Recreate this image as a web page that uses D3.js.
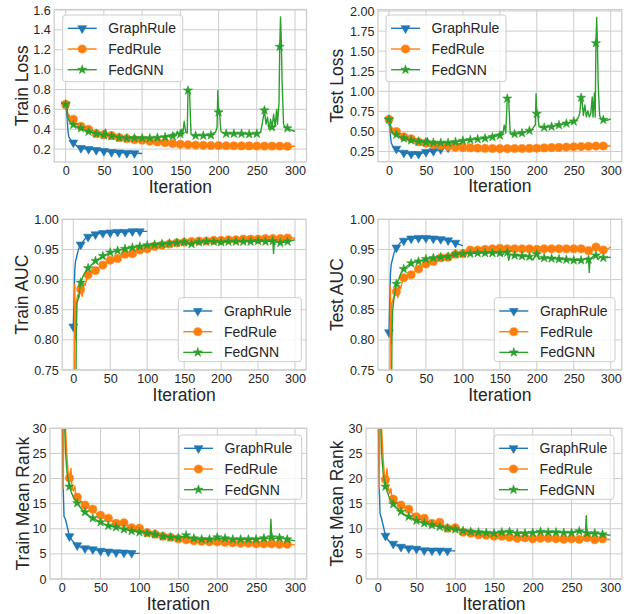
<!DOCTYPE html>
<html><head><meta charset="utf-8">
<script src="https://cdn.jsdelivr.net/npm/d3@7"></script>
<style>body{margin:0;background:#fff}svg{display:block}text{font-family:"Liberation Sans",Arial,sans-serif;fill:#262626}</style>
</head><body><svg id="c" width="627" height="614"></svg>
<script>
const seriesNames = ["GraphRule","FedRule","FedGNN"];
const xTicks = [0,50,100,150,200,250,300];
const yTicksLoss = [0.2,0.4,0.6,0.8,1.0,1.2,1.4,1.6];
const yTicksTestLoss = [0.25,0.5,0.75,1.0,1.25,1.5,1.75,2.0];
const yTicksAUC = [0.75,0.8,0.85,0.9,0.95,1.0];
const yTicksRank = [0,5,10,15,20,25,30];

// Train Loss
const trainLossGraphRule = [[0,0.65],[1,0.6],[2,0.5],[3,0.38],[4,0.33],[5,0.31],[7,0.29],[10,0.265],[13,0.24],[16,0.225],[20,0.21],[25,0.205],[30,0.2],[35,0.195],[40,0.19],[45,0.185],[50,0.18],[55,0.175],[60,0.17],[70,0.165],[80,0.16],[90,0.158],[100,0.155]];
const trainLossFedRule = [[0,0.65],[1,0.66],[2,0.6],[3,0.48],[4,0.55],[5,0.53],[7,0.5],[10,0.5],[13,0.46],[16,0.44],[20,0.43],[25,0.41],[30,0.4],[35,0.37],[40,0.355],[45,0.35],[50,0.345],[55,0.34],[60,0.335],[65,0.32],[70,0.315],[80,0.305],[90,0.295],[100,0.29],[110,0.28],[120,0.272],[130,0.265],[140,0.255],[150,0.248],[160,0.244],[170,0.24],[180,0.238],[190,0.236],[200,0.235],[210,0.234],[220,0.233],[230,0.232],[240,0.232],[250,0.231],[260,0.23],[270,0.23],[280,0.23],[290,0.229],[300,0.228]];
const trainLossFedGNN = [[0,0.65],[1,0.64],[2,0.6],[3,0.52],[4,0.5],[5,0.48],[7,0.46],[10,0.445],[13,0.43],[16,0.415],[20,0.41],[25,0.39],[30,0.375],[35,0.365],[40,0.355],[45,0.345],[50,0.34],[52,0.4],[54,0.34],[60,0.33],[65,0.325],[70,0.315],[80,0.31],[90,0.31],[100,0.31],[110,0.31],[120,0.315],[125,0.32],[130,0.32],[133,0.34],[136,0.32],[138,0.35],[140,0.33],[142,0.36],[144,0.33],[146,0.38],[148,0.34],[150,0.35],[152,0.4],[153,0.34],[155,0.48],[157,0.37],[159,0.36],[160,0.79],[162,0.78],[164,0.35],[167,0.33],[170,0.335],[175,0.335],[180,0.335],[185,0.34],[188,0.33],[190,0.34],[193,0.36],[196,0.37],[198,0.42],[199,0.79],[200,0.57],[201,0.6],[203,0.38],[206,0.36],[210,0.355],[220,0.355],[230,0.355],[240,0.35],[250,0.355],[255,0.37],[257,0.45],[260,0.59],[262,0.45],[264,0.52],[266,0.4],[268,0.5],[270,0.42],[272,0.55],[274,0.43],[276,0.6],[277,0.45],[279,0.66],[280,1.23],[281,1.53],[282,1.3],[283,0.9],[285,0.45],[288,0.41],[290,0.41],[295,0.39],[300,0.38]];

// Test Loss
const testLossGraphRule = [[0,0.64],[1,0.6],[2,0.45],[3,0.36],[5,0.32],[7,0.3],[10,0.285],[13,0.26],[16,0.245],[20,0.235],[25,0.225],[30,0.22],[35,0.22],[40,0.22],[45,0.23],[50,0.245],[55,0.25],[60,0.255],[65,0.265],[70,0.28],[75,0.29],[80,0.3],[85,0.31],[90,0.32],[95,0.34],[100,0.355]];
const testLossFedRule = [[0,0.65],[1,0.66],[2,0.6],[3,0.48],[4,0.55],[6,0.52],[10,0.5],[13,0.46],[16,0.44],[20,0.435],[25,0.42],[30,0.41],[35,0.385],[40,0.37],[45,0.36],[50,0.355],[55,0.345],[60,0.335],[70,0.325],[80,0.315],[90,0.305],[100,0.3],[110,0.297],[120,0.293],[130,0.29],[140,0.288],[150,0.287],[160,0.287],[170,0.288],[180,0.289],[190,0.29],[200,0.292],[210,0.296],[220,0.3],[230,0.302],[240,0.306],[250,0.309],[260,0.312],[270,0.315],[280,0.318],[290,0.32],[300,0.32]];
const testLossFedGNN = [[0,0.65],[1,0.64],[3,0.52],[5,0.48],[7,0.46],[10,0.46],[13,0.44],[16,0.43],[20,0.415],[25,0.4],[30,0.39],[35,0.38],[40,0.375],[45,0.37],[50,0.365],[52,0.42],[54,0.36],[60,0.36],[62,0.38],[64,0.35],[70,0.36],[80,0.36],[90,0.37],[100,0.385],[110,0.395],[120,0.405],[130,0.415],[135,0.42],[138,0.45],[140,0.43],[143,0.46],[145,0.44],[148,0.47],[150,0.45],[152,0.5],[154,0.47],[156,0.58],[158,0.48],[160,0.91],[162,0.9],[164,0.47],[166,0.46],[170,0.47],[175,0.47],[180,0.48],[185,0.5],[190,0.51],[193,0.52],[196,0.56],[198,0.58],[199,0.97],[200,0.72],[201,0.75],[203,0.56],[205,0.55],[210,0.55],[220,0.56],[230,0.58],[240,0.6],[250,0.625],[253,0.64],[256,0.67],[258,0.72],[260,0.92],[261,0.9],[263,0.7],[265,0.83],[267,0.68],[269,0.76],[271,0.68],[273,0.72],[275,0.93],[276,0.68],[278,0.98],[279,0.68],[280,1.6],[281,1.92],[282,1.6],[283,1.1],[285,0.7],[287,0.66],[290,0.645],[295,0.64],[300,0.655]];

// Train AUC
const trainAUCGraphRule = [[0,0.822],[1,0.86],[2,0.915],[3,0.93],[5,0.94],[7,0.95],[10,0.958],[13,0.963],[16,0.968],[20,0.971],[25,0.973],[30,0.975],[40,0.977],[50,0.978],[60,0.979],[70,0.979],[80,0.98],[90,0.98],[100,0.98]];
const trainAUCFedRule = [[0,0.5],[1,0.6],[2,0.892],[3,0.8],[4,0.86],[6,0.875],[8,0.87],[10,0.884],[12,0.872],[14,0.895],[16,0.89],[18,0.9],[20,0.908],[25,0.912],[30,0.915],[35,0.92],[40,0.924],[45,0.929],[50,0.932],[55,0.934],[60,0.935],[65,0.939],[70,0.942],[75,0.942],[80,0.943],[85,0.947],[90,0.949],[100,0.951],[110,0.955],[120,0.957],[130,0.959],[140,0.961],[150,0.962],[160,0.963],[170,0.964],[180,0.964],[190,0.965],[200,0.965],[210,0.966],[220,0.966],[230,0.967],[240,0.967],[250,0.967],[260,0.968],[270,0.968],[280,0.968],[290,0.969],[300,0.969]];
const trainAUCFedGNN = [[0,0.5],[3,0.6],[4,0.8],[5,0.86],[7,0.87],[10,0.895],[13,0.905],[16,0.912],[20,0.919],[25,0.925],[30,0.931],[35,0.935],[40,0.939],[45,0.942],[50,0.945],[60,0.948],[70,0.951],[80,0.953],[90,0.955],[100,0.957],[110,0.958],[120,0.959],[130,0.96],[140,0.961],[150,0.962],[155,0.96],[158,0.957],[160,0.959],[163,0.962],[170,0.962],[180,0.963],[190,0.963],[200,0.962],[210,0.963],[220,0.963],[230,0.963],[240,0.963],[250,0.964],[260,0.963],[270,0.964],[271,0.943],[272,0.963],[280,0.961],[285,0.962],[290,0.963],[300,0.966]];

// Test AUC
const testAUCGraphRule = [[0,0.8125],[1,0.86],[2,0.91],[3,0.925],[5,0.935],[7,0.945],[10,0.953],[13,0.958],[16,0.962],[20,0.9645],[25,0.967],[30,0.968],[40,0.969],[50,0.969],[60,0.968],[70,0.967],[80,0.965],[90,0.961],[100,0.956]];
const testAUCFedRule = [[0,0.5],[1,0.6],[2,0.889],[3,0.793],[4,0.86],[6,0.87],[8,0.875],[10,0.88],[12,0.87],[14,0.89],[16,0.885],[18,0.897],[20,0.903],[25,0.905],[30,0.908],[35,0.913],[40,0.9175],[45,0.922],[50,0.926],[55,0.928],[60,0.93],[65,0.933],[70,0.936],[75,0.936],[80,0.937],[85,0.94],[90,0.942],[100,0.943],[110,0.949],[120,0.949],[130,0.95],[140,0.951],[150,0.952],[160,0.951],[170,0.951],[180,0.951],[190,0.951],[200,0.95],[210,0.951],[220,0.951],[230,0.951],[240,0.951],[250,0.951],[260,0.951],[270,0.948],[275,0.95],[280,0.954],[285,0.948],[290,0.949],[295,0.95],[300,0.954]];
const testAUCFedGNN = [[0,0.5],[3,0.62],[4,0.8],[5,0.85],[7,0.87],[10,0.893],[13,0.9],[16,0.91],[20,0.9175],[25,0.923],[30,0.927],[35,0.929],[40,0.93],[50,0.934],[60,0.936],[70,0.937],[80,0.938],[90,0.942],[100,0.943],[110,0.943],[120,0.944],[130,0.944],[140,0.944],[150,0.944],[153,0.94],[156,0.945],[160,0.945],[162,0.932],[164,0.942],[170,0.94],[180,0.939],[190,0.938],[195,0.933],[198,0.94],[200,0.942],[203,0.934],[210,0.936],[220,0.935],[230,0.934],[240,0.933],[250,0.932],[260,0.932],[265,0.934],[268,0.936],[270,0.933],[271,0.912],[272,0.934],[275,0.937],[278,0.94],[280,0.94],[283,0.933],[286,0.938],[290,0.936],[300,0.937]];

// Train Mean Rank
const trainRankGraphRule = [[0,40],[1,30],[2,18],[3,12.5],[5,11.8],[7,10.5],[10,8.5],[13,7.8],[16,7.2],[20,6.7],[25,6.3],[30,6.1],[35,6],[40,5.9],[50,5.6],[60,5.45],[70,5.3],[80,5.25],[90,5.15],[100,5.1]];
const trainRankFedRule = [[0,45],[1,40],[2,18],[3,38],[5,30],[7,24],[9,20],[10,20.1],[12,22],[13,19],[15,17.5],[17,18.5],[18,17],[20,16.3],[25,15.5],[30,14.7],[35,14.2],[40,13.9],[45,13],[50,12.7],[55,12.3],[60,12.1],[65,11.5],[70,11.1],[75,11],[80,11.2],[85,10.5],[90,10.2],[100,10.1],[110,9.2],[120,8.9],[130,8.5],[140,8.3],[150,8],[160,7.8],[170,7.6],[180,7.5],[190,7.4],[200,7.4],[210,7.3],[220,7.2],[230,7.1],[240,7.1],[250,7],[260,7],[270,7],[280,6.9],[290,6.9],[300,6.8]];
const trainRankFedGNN = [[0,45],[2,40],[4,30],[5,25],[7,21],[10,18.4],[13,17],[16,16],[20,15.1],[25,14],[30,13.3],[35,12.6],[40,12.1],[45,11.7],[50,11.3],[55,10.9],[60,10.6],[70,10.3],[80,9.9],[90,9.55],[100,9.3],[110,9.1],[120,8.9],[130,8.5],[140,8.3],[150,8.2],[155,8.4],[160,8.7],[165,8.2],[170,8.1],[180,7.9],[190,7.9],[195,8],[200,8.3],[205,8],[210,8.1],[220,7.9],[230,7.9],[240,7.9],[250,7.9],[260,8.1],[268,8],[269,11.9],[270,8.3],[272,8],[280,8.2],[290,7.9],[300,7.6]];

// Test Mean Rank
const testRankGraphRule = [[0,40],[1,30],[2,18],[3,13],[5,12],[8,10],[10,8.6],[13,7.8],[16,7.3],[20,7],[25,6.6],[30,6.4],[35,6.2],[40,6.1],[50,6],[60,5.7],[70,5.65],[80,5.65],[90,5.6],[100,5.6]];
const testRankFedRule = [[0,45],[1,40],[2,18],[3,38],[5,30],[7,24],[9,20],[10,19.8],[12,22],[13,19],[15,17],[17,18],[18,16.5],[20,15.9],[25,15.2],[30,14.7],[35,14.2],[40,13.9],[45,13],[50,12.4],[55,12.2],[60,12.1],[65,11.4],[70,11.1],[75,11],[80,11.3],[85,10.5],[90,10.1],[100,10.2],[110,9.3],[120,9.1],[130,8.8],[140,8.7],[150,8.5],[160,8.5],[170,8.3],[180,8.1],[190,8.2],[200,8],[210,8.1],[220,8.1],[230,8],[240,7.9],[250,8],[260,7.9],[270,8.2],[280,7.8],[290,8],[300,7.8]];
const testRankFedGNN = [[0,45],[2,40],[4,30],[5,25],[7,21],[10,18.4],[13,17],[16,15.8],[20,14.9],[25,14],[30,13.4],[35,12.8],[40,12.4],[45,12],[50,11.6],[55,11.3],[60,11.1],[70,10.75],[80,10.4],[90,10.1],[100,9.9],[110,9.6],[120,9.4],[130,9.3],[140,9.2],[150,9.1],[160,9.3],[170,9.4],[180,9.1],[190,9.1],[200,9.2],[210,9.4],[220,9.3],[230,9.3],[240,9.2],[250,9.2],[260,9.5],[268,9.3],[269,12.6],[270,9.1],[272,9],[280,9.1],[290,8.9],[300,8.7]];

const colors = ["#1f77b4","#ff7f0e","#2ca02c"];
const panels = [
  {ylabel:"Train Loss", data:[trainLossGraphRule,trainLossFedRule,trainLossFedGNN], yDomain:[0.07,1.605], yTicks:yTicksLoss, fmt:d3.format(".1f"),
   box:[54.2,306.5,9.5,162], ylx:28.3, legend:{x:62.7,y:15,w:120,h:66.7}},
  {ylabel:"Test Loss", data:[testLossGraphRule,testLossFedRule,testLossFedGNN], yDomain:[0.124,2.016], yTicks:yTicksTestLoss, fmt:d3.format(".2f"),
   box:[377.9,621.8,9.7,161.7], ylx:343.3, legend:{x:386,y:15,w:120,h:66.7}},
  {ylabel:"Train AUC", data:[trainAUCGraphRule,trainAUCFedRule,trainAUCFedGNN], yDomain:[0.75,1.0], yTicks:yTicksAUC, fmt:d3.format(".2f"),
   box:[62.2,306.1,219.3,370], ylx:28.3, legend:{x:178.3,y:297.7,w:123,h:64}},
  {ylabel:"Test AUC", data:[testAUCGraphRule,testAUCFedRule,testAUCFedGNN], yDomain:[0.75,1.0], yTicks:yTicksAUC, fmt:d3.format(".2f"),
   box:[377.9,621.8,219.3,370], ylx:343.3, legend:{x:494.3,y:297.7,w:120.7,h:64}},
  {ylabel:"Train Mean Rank", data:[trainRankGraphRule,trainRankFedRule,trainRankFedGNN], yDomain:[0,30], yTicks:yTicksRank, fmt:d3.format("d"),
   box:[50,306.7,428.3,579], ylx:28.5, legend:{x:179,y:435,w:122.7,h:64.3}},
  {ylabel:"Test Mean Rank", data:[testRankGraphRule,testRankFedRule,testRankFedGNN], yDomain:[0,30], yTicks:yTicksRank, fmt:d3.format("d"),
   box:[366.1,621.9,428.3,579], ylx:343.3, legend:{x:494,y:435,w:120,h:64.3}}
];

const svg = d3.select("#c");
const symTypes = [d3.symbolTriangle, d3.symbolCircle, d3.symbolStar];
const symSizes = [34, 52, 26];
const symRot = [180, 0, 0];
function marker(g, i, x, y){
  g.append("path").attr("d", d3.symbol().type(symTypes[i]).size(symSizes[i])())
   .attr("transform", `translate(${x},${y}) rotate(${symRot[i]})`)
   .attr("fill", colors[i]).attr("stroke", colors[i]).attr("stroke-width", 0.6);
}

panels.forEach((p, pi) => {
  const [L,R,T,B] = p.box;
  const x = d3.scaleLinear().domain([-15,315]).range([L,R]);
  const y = d3.scaleLinear().domain(p.yDomain).range([B,T]);
  const g = svg.append("g");
  g.append("g").selectAll("line").data(xTicks).join("line")
    .attr("x1", d=>x(d)).attr("x2", d=>x(d)).attr("y1", T).attr("y2", B)
    .attr("stroke", "#cccccc").attr("stroke-width", 1);
  g.append("g").selectAll("line").data(p.yTicks).join("line")
    .attr("x1", L).attr("x2", R).attr("y1", d=>y(d)).attr("y2", d=>y(d))
    .attr("stroke", "#cccccc").attr("stroke-width", 1);
  const xa = g.append("g").attr("transform", `translate(0,${B})`)
    .call(d3.axisBottom(x).tickValues(xTicks).tickSize(0).tickPadding(4));
  const ya = g.append("g").attr("transform", `translate(${L},0)`)
    .call(d3.axisLeft(y).tickValues(p.yTicks).tickFormat(p.fmt).tickSize(0).tickPadding(3.5));
  [xa, ya].forEach(a => { a.select(".domain").remove();
    a.selectAll("text").style("font-family", '"Liberation Sans",Arial,sans-serif').style("font-size","12.6px").attr("fill","#262626"); });
  const cid = "clip"+pi;
  svg.append("clipPath").attr("id", cid).append("rect").attr("x", L).attr("y", T).attr("width", R-L).attr("height", B-T);
  const plot = g.append("g").attr("clip-path", `url(#${cid})`);
  const line = d3.line().x(d=>x(d[0])).y(d=>y(d[1]));
  p.data.forEach((s, i) => {
    plot.append("path").datum(s).attr("d", line).attr("fill","none")
      .attr("stroke", colors[i]).attr("stroke-width", 1.4).attr("stroke-linejoin","round");
    const last = s[s.length-1][0];
    s.filter(d => d[0] % 10 === 0 && d[0] < last).forEach(d => marker(plot, i, x(d[0]), y(d[1])));
  });
  g.append("rect").attr("x", L).attr("y", T).attr("width", R-L).attr("height", B-T)
    .attr("fill","none").attr("stroke","#cccccc").attr("stroke-width",1.25);
  g.append("text").attr("x", (L+R)/2).attr("y", B+30.7).attr("text-anchor","middle")
    .style("font-size","17.5px").text("Iteration");
  g.append("text").attr("transform", `translate(${p.ylx},${(T+B)/2}) rotate(-90)`).attr("text-anchor","middle")
    .style("font-size","17.5px").text(p.ylabel);
  const lg = p.legend;
  g.append("rect").attr("x", lg.x).attr("y", lg.y).attr("width", lg.w).attr("height", lg.h)
    .attr("rx", 3).attr("fill","#fff").attr("fill-opacity",0.8).attr("stroke","#cccccc").attr("stroke-width",1);
  seriesNames.forEach((n, i) => {
    const cy = lg.y + 13.3 + i*20.7;
    g.append("line").attr("x1", lg.x+5).attr("x2", lg.x+34).attr("y1", cy).attr("y2", cy)
      .attr("stroke", colors[i]).attr("stroke-width", 1.4);
    marker(g, i, lg.x+19.5, cy);
    g.append("text").attr("x", lg.x+45.6).attr("y", cy+5).style("font-size","14px").text(n);
  });
});
</script></body></html>
